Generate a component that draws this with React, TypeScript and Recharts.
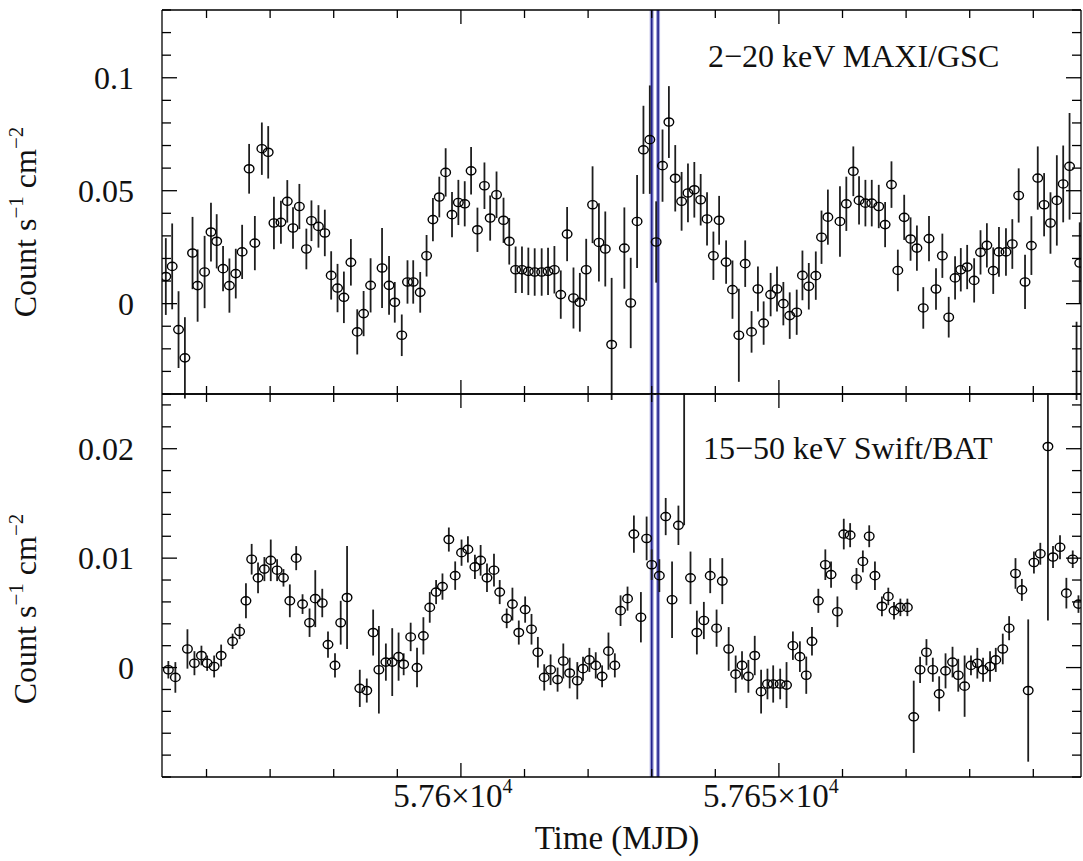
import { ScatterChart, Scatter, XAxis, YAxis, ErrorBar, ReferenceLine } from "recharts"

// MAXI/GSC 2-20 keV daily light curve
const maxiTime = [
  57553.6, 57554.6, 57555.6, 57556.6, 57557.8, 57558.6, 57559.7, 57560.7, 57561.6, 57562.6,
  57563.6, 57564.6, 57565.6, 57566.7, 57567.6, 57568.7, 57569.7, 57570.6, 57571.7, 57572.7,
  57573.6, 57574.6, 57575.7, 57576.5, 57577.6, 57578.6, 57579.6, 57580.6, 57581.6, 57582.7,
  57583.7, 57584.7, 57585.8, 57587.6, 57588.7, 57589.6, 57590.7, 57591.6, 57592.5, 57593.6,
  57594.6, 57595.6, 57596.6, 57597.6, 57598.6, 57599.6, 57600.6, 57601.6, 57602.6, 57603.7,
  57604.6, 57605.6, 57606.7, 57607.6, 57608.6, 57609.6, 57610.6, 57611.6, 57612.7, 57613.7,
  57614.7, 57615.7, 57616.7, 57617.7, 57618.7, 57619.7, 57620.7, 57621.7, 57622.7, 57623.7,
  57625.7, 57626.7, 57627.7, 57628.7, 57629.7, 57630.7, 57631.7, 57632.7, 57633.7, 57634.7,
  57635.7, 57636.7, 57637.7, 57638.7, 57639.7, 57640.6, 57641.7, 57642.7, 57643.7, 57644.7,
  57645.7, 57646.7, 57647.6, 57648.7, 57649.7, 57650.7, 57651.7, 57652.8, 57653.7, 57654.7,
  57655.8, 57656.7, 57657.7, 57659.6, 57660.6, 57661.7, 57662.6, 57663.6, 57664.6, 57665.7,
  57666.7, 57667.7, 57668.7, 57669.7, 57670.7, 57671.7, 57672.7, 57673.6, 57674.7, 57675.7,
  57676.7, 57677.7, 57678.6, 57679.6, 57680.7, 57681.7, 57682.7, 57683.7, 57684.6, 57685.7,
  57686.7, 57687.7, 57688.7, 57689.7, 57690.7, 57691.7, 57692.7, 57693.7, 57694.7, 57695.7,
  57696.8, 57697.3,
]
const maxiRate = [
  0.012, 0.0165, -0.0115, -0.024, 0.0224, 0.008, 0.014, 0.0317, 0.0276, 0.0155,
  0.008, 0.0133, 0.0229, 0.0597, 0.0268, 0.0686, 0.067, 0.0357, 0.036, 0.0453,
  0.0335, 0.043, 0.0242, 0.0367, 0.0342, 0.0313, 0.0125, 0.0069, 0.0028, 0.0183,
  -0.0125, -0.0044, 0.0081, 0.0158, 0.0081, 0.0006, -0.014, 0.0096, 0.0096, 0.005,
  0.0212, 0.0372, 0.0472, 0.0581, 0.0394, 0.0448, 0.0442, 0.0588, 0.0327, 0.0522,
  0.0379, 0.0482, 0.0369, 0.0276, 0.015, 0.015, 0.0143, 0.014, 0.014, 0.0143,
  0.015, 0.004, 0.0308, 0.0025, 0.0006, 0.015, 0.0438, 0.0271, 0.0242, -0.0181,
  0.0246, 0.0003, 0.0364, 0.0681, 0.0726, 0.0273, 0.0611, 0.0804, 0.0555, 0.0453,
  0.049, 0.0504, 0.046, 0.0375, 0.0212, 0.0369, 0.0184, 0.0062, -0.014, 0.0177,
  -0.0125, 0.0065, -0.0086, 0.004, 0.0065, 0.0, -0.0053, -0.0038, 0.0125, 0.0077,
  0.0124, 0.0294, 0.0383, 0.0364, 0.0442, 0.0586, 0.0457, 0.0445, 0.0445, 0.043,
  0.035, 0.0527, 0.0147, 0.0382, 0.0286, 0.0246, -0.0019, 0.0288, 0.0065, 0.0212,
  -0.006, 0.0114, 0.015, 0.0162, 0.0103, 0.0227, 0.0258, 0.0146, 0.0229, 0.0229,
  0.0264, 0.0479, 0.0096, 0.0257, 0.0556, 0.0438, 0.0357, 0.0457, 0.053, 0.0608,
  -0.06, 0.018,
]
const maxiErr = [
  0.017, 0.019, 0.017, 0.018, 0.016, 0.016, 0.016, 0.013, 0.012, 0.010,
  0.012, 0.011, 0.012, 0.011, 0.012, 0.0116, 0.0116, 0.0116, 0.0095, 0.0094,
  0.0092, 0.010, 0.009, 0.009, 0.0094, 0.0103, 0.0107, 0.0107, 0.0114, 0.0103,
  0.010, 0.010, 0.012, 0.0177, 0.013, 0.009, 0.0092, 0.0096, 0.0096, 0.009,
  0.0092, 0.0096, 0.009, 0.0107, 0.010, 0.010, 0.010, 0.0105, 0.0098, 0.0103,
  0.010, 0.0103, 0.010, 0.0103, 0.0103, 0.0103, 0.0105, 0.0105, 0.0105, 0.0105,
  0.0105, 0.0107, 0.012, 0.0135, 0.013, 0.0137, 0.017, 0.0173, 0.0166, 0.0295,
  0.018, 0.02, 0.0206, 0.0195, 0.024, 0.018, 0.016, 0.0159, 0.0147, 0.013,
  0.013, 0.0123, 0.0114, 0.0118, 0.0107, 0.0108, 0.0096, 0.0129, 0.0206, 0.0103,
  0.0092, 0.010, 0.0096, 0.0096, 0.010, 0.0096, 0.0103, 0.010, 0.011, 0.0103,
  0.0107, 0.0118, 0.0122, 0.0156, 0.012, 0.011, 0.0107, 0.0103, 0.0103, 0.0096,
  0.010, 0.0103, 0.0092, 0.010, 0.0096, 0.010, 0.0092, 0.010, 0.0092, 0.0098,
  0.009, 0.0096, 0.0096, 0.0098, 0.0098, 0.0098, 0.0098, 0.0103, 0.011, 0.0105,
  0.011, 0.012, 0.012, 0.013, 0.014, 0.014, 0.0136, 0.020, 0.017, 0.0236,
  0.052, 0.018,
]

// Swift/BAT 15-50 keV daily light curve
const batTime = [
  57554.0, 57555.1, 57557.0, 57558.1, 57559.2, 57560.1, 57561.2, 57562.3, 57564.1, 57565.2,
  57566.2, 57567.1, 57568.1, 57569.1, 57570.1, 57571.1, 57572.1, 57573.1, 57574.1, 57575.1,
  57576.2, 57577.1, 57578.2, 57579.1, 57580.2, 57581.1, 57582.1, 57584.1, 57585.2, 57586.2,
  57587.1, 57588.2, 57589.2, 57590.2, 57591.0, 57592.1, 57593.1, 57594.1, 57595.1, 57596.1,
  57597.1, 57598.1, 57599.1, 57600.1, 57601.1, 57602.2, 57603.1, 57604.1, 57605.2, 57606.1,
  57607.2, 57608.1, 57609.1, 57610.1, 57611.1, 57612.1, 57613.1, 57614.1, 57615.2, 57616.1,
  57617.1, 57618.3, 57619.2, 57620.2, 57621.2, 57622.2, 57623.2, 57624.2, 57625.1, 57626.2,
  57627.2, 57628.3, 57629.2, 57630.0, 57631.2, 57632.2, 57633.2, 57634.2, 57635.1, 57636.1,
  57637.1, 57638.2, 57639.2, 57640.2, 57641.1, 57642.1, 57643.2, 57644.2, 57645.2, 57646.2,
  57647.2, 57648.2, 57649.1, 57650.2, 57651.2, 57652.2, 57653.3, 57654.3, 57655.2, 57656.2,
  57657.3, 57658.2, 57659.2, 57660.2, 57661.2, 57662.2, 57663.2, 57664.2, 57665.1, 57666.2,
  57667.2, 57668.1, 57669.1, 57670.2, 57671.2, 57672.2, 57673.2, 57674.2, 57675.2, 57676.2,
  57677.3, 57678.2, 57679.2, 57680.2, 57681.2, 57682.1, 57683.2, 57684.1, 57685.2, 57686.2,
  57687.2, 57688.2, 57689.2, 57690.1, 57691.1, 57692.3, 57693.1, 57694.2, 57695.2, 57696.2,
  57697.1,
]
const batRate = [
  -0.0002, -0.0009, 0.0017, 0.0004, 0.0011, 0.0004, 0.0001, 0.0011, 0.0024, 0.0033,
  0.0061, 0.0099, 0.0082, 0.009, 0.0098, 0.0089, 0.0082, 0.0061, 0.010, 0.0058,
  0.0041, 0.0063, 0.0059, 0.0021, 0.0002, 0.0041, 0.0064, -0.0019, -0.0021, 0.0032,
  -0.0002, 0.0005, 0.0005, 0.001, 0.0003, 0.0028, 0.0, 0.0029, 0.0055, 0.0069,
  0.0074, 0.0117, 0.0084, 0.0105, 0.0108, 0.0092, 0.0098, 0.0082, 0.0089, 0.0069,
  0.0045, 0.0058, 0.0032, 0.0053, 0.0035, 0.0014, -0.0009, -0.0002, -0.0011, 0.0006,
  -0.0005, -0.0012, -0.0001, 0.0007, 0.0002, -0.0008, 0.0015, 0.0002, 0.0052, 0.0063,
  0.0122, 0.0046, 0.0118, 0.0094, 0.0084, 0.0138, 0.0062, 0.013, 0.04, 0.0082,
  0.0032, 0.0043, 0.0084, 0.0036, 0.0079, 0.0017, -0.0006, 0.0002, -0.0008, 0.0011,
  -0.0022, -0.0015, -0.0015, -0.0015, -0.0016, 0.002, 0.001, -0.0007, 0.0024, 0.0061,
  0.0094, 0.0085, 0.0051, 0.0122, 0.0121, 0.0081, 0.0097, 0.012, 0.0084, 0.0056,
  0.0065, 0.0052, 0.0055, 0.0055, -0.0045, -0.0002, 0.0014, -0.0002, -0.0024, -0.0003,
  0.0005, -0.0007, -0.0017, 0.0002, 0.0004, -0.0002, 0.0001, 0.0007, 0.0017, 0.0036,
  0.0086, 0.0071, -0.0021, 0.0096, 0.0104, 0.0202, 0.0101, 0.011, 0.0068, 0.0099,
  0.0058,
]
const batErr = [
  0.0008, 0.0014, 0.0018, 0.0011, 0.0009, 0.0007, 0.001, 0.001, 0.0007, 0.0007,
  0.0016, 0.0014, 0.0014, 0.0011, 0.0019, 0.001, 0.0008, 0.0015, 0.0011, 0.0009,
  0.0013, 0.0026, 0.0013, 0.0012, 0.0011, 0.002, 0.0047, 0.0017, 0.0011, 0.0021,
  0.004, 0.0017, 0.0031, 0.0022, 0.001, 0.0013, 0.0018, 0.0017, 0.0014, 0.0011,
  0.0012, 0.0011, 0.0013, 0.0012, 0.0012, 0.0011, 0.0014, 0.0013, 0.0015, 0.0011,
  0.0009, 0.0015, 0.0011, 0.0012, 0.0014, 0.0014, 0.0012, 0.0014, 0.0011, 0.0016,
  0.0014, 0.0017, 0.0011, 0.0011, 0.0012, 0.001, 0.0017, 0.0011, 0.0014, 0.0011,
  0.0017, 0.0023, 0.002, 0.0014, 0.0015, 0.0017, 0.0035, 0.0018, 0.027, 0.0024,
  0.002, 0.0017, 0.0016, 0.0017, 0.0021, 0.002, 0.0017, 0.0013, 0.0015, 0.0018,
  0.002, 0.0014, 0.0017, 0.0014, 0.0021, 0.0013, 0.0014, 0.0017, 0.0013, 0.0011,
  0.0014, 0.0012, 0.0014, 0.0014, 0.0011, 0.001, 0.001, 0.001, 0.0013, 0.0009,
  0.0008, 0.0008, 0.0008, 0.0008, 0.0033, 0.0012, 0.0012, 0.0011, 0.0016, 0.0016,
  0.0014, 0.0015, 0.0028, 0.0009, 0.0014, 0.0011, 0.0014, 0.0011, 0.0014, 0.0011,
  0.0014, 0.001, 0.0065, 0.001, 0.001, 0.0159, 0.001, 0.0011, 0.0014, 0.0008,
  0.0008,
]

// epochs marked by the blue lines
const markTimes = [57630, 57631]

const xDomain = [57553, 57697.5]
const xTicks = [57560, 57570, 57580, 57590, 57600, 57610, 57620, 57630, 57640, 57650, 57660, 57670, 57680, 57690]
const xMajor = [57600, 57650]
const xLabels = ["5.76", "5.765"]

const maxiDomain = [-0.04, 0.13]
const maxiTicks = [-0.04, -0.03, -0.02, -0.01, 0, 0.01, 0.02, 0.03, 0.04, 0.05, 0.06, 0.07, 0.08, 0.09, 0.1, 0.11, 0.12, 0.13]
const maxiMajor = [0, 0.05, 0.1]
const maxiLabels = ["0", "0.05", "0.1"]

const batDomain = [-0.01, 0.025]
const batTicks = [-0.01, -0.008, -0.006, -0.004, -0.002, 0, 0.002, 0.004, 0.006, 0.008, 0.01, 0.012, 0.014, 0.016, 0.018, 0.02, 0.022, 0.024]
const batMajor = [0, 0.01, 0.02]
const batLabels = ["0", "0.01", "0.02"]

const FONT = '"Liberation Serif", "Times New Roman", "DejaVu Serif", serif'
const INK = "#000"

const maxiData = maxiTime.map((t, i) => ({ t, v: maxiRate[i], e: maxiErr[i] }))
const batData = batTime.map((t, i) => ({ t, v: batRate[i], e: batErr[i] }))

const findMajor = (list: number[], v: number) => list.findIndex((m) => Math.abs(m - v) < 1e-9)

const yTick = (major: number[], labels: string[], side: "left" | "right") => (props: any) => {
  const { x, y, payload } = props
  const i = findMajor(major, payload.value)
  const len = i >= 0 ? 15 : 9
  const dir = side === "left" ? 1 : -1
  return (
    <g>
      <line x1={x} y1={y} x2={x + dir * len} y2={y} stroke={INK} strokeWidth={1.3} />
      {side === "left" && i >= 0 && (
        <text x={x - 28} y={y + 11} textAnchor="end" fontFamily={FONT} fontSize={32} fill="#111">
          {labels[i]}
        </text>
      )}
    </g>
  )
}

// tick label baseline is given in the chart's own coordinates
const xTick = (side: "top" | "bottom", labelY: number | null) => (props: any) => {
  const { x, y, payload } = props
  const i = findMajor(xMajor, payload.value)
  const len = i >= 0 ? 14 : 8
  const dir = side === "top" ? 1 : -1
  return (
    <g>
      <line x1={x} y1={y} x2={x} y2={y + dir * len} stroke={INK} strokeWidth={1.3} />
      {labelY !== null && i >= 0 && (
        <text x={x - 8} y={labelY} textAnchor="middle" fontFamily={FONT} fontSize={33} fill="#111">
          {xLabels[i]}×10
          <tspan fontSize={20} dy={-14}>4</tspan>
        </text>
      )}
    </g>
  )
}

const Ring = (p: any) => (
  <ellipse cx={p.cx} cy={p.cy} rx={4.8} ry={4.1} fill="none" stroke={INK} strokeWidth={1.4} />
)

const Panel = ({ data, domain, ticks, major, labels, height, margin, labelY }: any) => (
  <ScatterChart width={1083} height={height} margin={margin}>
    <XAxis
      xAxisId="b" dataKey="t" type="number" orientation="bottom" domain={xDomain} ticks={xTicks}
      allowDataOverflow interval={0} height={1} tickSize={0} tickMargin={0} tickLine={false}
      axisLine={{ stroke: INK, strokeWidth: 1.3 }} tick={xTick("bottom", labelY)}
    />
    <XAxis
      xAxisId="t" dataKey="t" type="number" orientation="top" domain={xDomain} ticks={xTicks}
      allowDataOverflow interval={0} height={1} tickSize={0} tickMargin={0} tickLine={false}
      axisLine={{ stroke: INK, strokeWidth: 1.3 }} tick={xTick("top", null)}
    />
    <YAxis
      yAxisId="l" dataKey="v" type="number" orientation="left" domain={domain} ticks={ticks}
      allowDataOverflow interval={0} width={162} tickSize={0} tickMargin={0} tickLine={false}
      axisLine={{ stroke: INK, strokeWidth: 1.3 }} tick={yTick(major, labels, "left")}
    />
    <YAxis
      yAxisId="r" dataKey="v" type="number" orientation="right" domain={domain} ticks={ticks}
      allowDataOverflow interval={0} width={1} tickSize={0} tickMargin={0} tickLine={false}
      axisLine={{ stroke: INK, strokeWidth: 1.3 }} tick={yTick(major, labels, "right")}
    />
    {markTimes.map((m) => (
      <ReferenceLine key={`h${m}`} xAxisId="b" yAxisId="l" x={m} stroke="#a4a4dc" strokeWidth={4} />
    ))}
    {markTimes.map((m) => (
      <ReferenceLine key={`c${m}`} xAxisId="b" yAxisId="l" x={m} stroke="#22228c" strokeWidth={1.6} />
    ))}
    <Scatter data={data} xAxisId="b" yAxisId="l" shape={Ring} isAnimationActive={false}>
      <ErrorBar dataKey="e" direction="y" width={0} stroke="#1e1e1e" strokeWidth={1.8} isAnimationActive={false} />
    </Scatter>
  </ScatterChart>
)

const Sup = ({ children }: any) => (
  <tspan fontSize={21} dy={-13}>{children}</tspan>
)

const YTitle = ({ cy }: { cy: number }) => (
  <text transform={`translate(36,${cy}) rotate(-90)`} textAnchor="middle" fontFamily={FONT} fontSize={32} fill="#111">
    Count s<Sup>−1</Sup>
    <tspan dy={13}> cm</tspan>
    <Sup>−2</Sup>
  </text>
)

export default function App() {
  return (
    <div style={{ position: "absolute", left: 0, top: 0, width: 1083, height: 861, background: "#fff", overflow: "hidden" }}>
      <div style={{ position: "absolute", left: 0, top: 0 }}>
        <Panel
          data={maxiData} domain={maxiDomain} ticks={maxiTicks} major={maxiMajor} labels={maxiLabels}
          height={400} margin={{ top: 9, right: 1, bottom: 5, left: 0 }} labelY={null}
        />
      </div>
      <div style={{ position: "absolute", left: 0, top: 393 }}>
        <Panel
          data={batData} domain={batDomain} ticks={batTicks} major={batMajor} labels={batLabels}
          height={468} margin={{ top: 0, right: 1, bottom: 83, left: 0 }} labelY={414}
        />
      </div>
      <svg width={1083} height={861} style={{ position: "absolute", left: 0, top: 0, pointerEvents: "none" }}>
        <YTitle cy={222} />
        <YTitle cy={609} />
        <text x={708} y={67} fontFamily={FONT} fontSize={32} fill="#111">2−20 keV MAXI/GSC</text>
        <text x={703} y={459} fontFamily={FONT} fontSize={32} fill="#111">15−50 keV Swift/BAT</text>
        <text x={617} y={849} textAnchor="middle" fontFamily={FONT} fontSize={33} fill="#111">Time (MJD)</text>
      </svg>
    </div>
  )
}
